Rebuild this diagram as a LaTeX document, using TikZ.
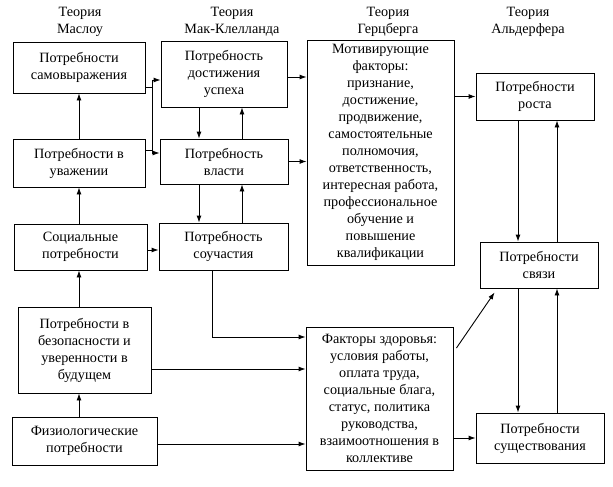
\documentclass[tikz,border=0pt]{standalone}
\usepackage{fontspec}
\setmainfont{Liberation Serif}
\newfontfamily\timesfnt{Liberation Serif}
\usetikzlibrary{arrows.meta}
\tikzset{
  box/.style={rectangle,draw,line width=0.9pt,align=center,inner sep=2pt},
  head/.style={align=center,inner sep=0pt},
  >={Latex[length=7pt,width=5pt]}
}
\begin{document}
\begin{tikzpicture}[x=1pt,y=-1pt,line width=0.9pt,
    font=\timesfnt\fontsize{14.2}{17}\selectfont]
      \useasboundingbox (0,0) rectangle (613,487);
      % headings
      \node[head] (hmaslow) at (80,22) {Теория\\Маслоу};
      \node[head] (hmccl) at (232,22) {Теория\\Мак-Клелланда};
      \node[head] (hherz) at (388,22) {Теория\\Герцберга};
      \node[head] (halder) at (528,22) {Теория\\Альдерфера};
      % Maslow
      \node[box,minimum width=132,minimum height=51] (self) at (79,67.5)
      {Потребности\\самовыражения};
      \node[box,minimum width=132,minimum height=48] (esteem) at (79,163)
      {Потребности в\\уважении};
      \node[box,minimum width=133,minimum height=46] (social) at (80.5,247)
      {Социальные\\потребности};
      \node[box,minimum width=133,minimum height=86] (safety) at (84.5,350)
      {Потребности в\\безопасности и\\уверенности в\\будущем};
      \node[box,minimum width=145,minimum height=48] (physio) at (84.5,441)
      {Физиологические\\потребности};
      % McClelland
      \node[box,minimum width=126,minimum height=66] (achieve) at (224,74)
      {Потребность\\достижения\\успеха};
      \node[box,minimum width=128,minimum height=45] (power) at (224,161.5)
      {Потребность\\власти};
      \node[box,minimum width=129,minimum height=47] (affil) at (223.5,246.5)
      {Потребность\\соучастия};
      % Herzberg
      \node[box,minimum width=147,minimum height=225] (motiv) at (380.5,152.5)
      {Мотивирующие\\факторы:\\признание,\\достижение,\\продвижение,\\самостоятельные\\полномочия,\\ответственность,\\интересная работа,\\профессиональное\\обучение и\\повышение\\квалификации};
      \node[box,minimum width=147,minimum height=143] (hygiene) at (379.5,398.5)
      {Факторы здоровья:\\условия работы,\\оплата труда,\\социальные блага,\\статус, политика\\руководства,\\взаимоотношения в\\коллективе};
      % Alderfer
      \node[box,minimum width=118,minimum height=47] (growth) at (535,96.5)
      {Потребности\\роста};
      \node[box,minimum width=118,minimum height=46] (relate) at (539,265)
      {Потребности\\связи};
      \node[box,minimum width=128,minimum height=50] (exist) at (540,438)
      {Потребности\\существования};
      % helper coordinates
      \coordinate (mx) at (79,0);
      \coordinate (ca) at (199,0);
      \coordinate (cb) at (242,0);
      \coordinate (aa) at (518,0);
      \coordinate (ab) at (557,0);
      \coordinate (s1) at (152,87);
      \coordinate (s2) at (152,150);
      \coordinate (t1) at (0,80);
      \coordinate (t2) at (0,153);
      % Maslow arrows
      \draw[->] (esteem.north -| mx) -- (self.south -| mx);
      \draw[->] (social.north -| mx) -- (esteem.south -| mx);
      \draw[->] (safety.north -| mx) -- (social.south -| mx);
      \draw[->] (physio.north -| mx) -- (safety.south -| mx);
      % Maslow to McClelland
      \draw[->] (self.east |- s1) -- (s1) |- (achieve.west |- t1);
      \draw[->] (esteem.east |- s2) -- (s2) |- (power.west |- t2);
      \draw (s1) -- (s2);
      \draw[->] ([yshift=-3pt]social.east) -- ([yshift=-3pt]social.east -| affil.west);
      % McClelland arrows
      \draw[->] (achieve.south -| ca) -- (power.north -| ca);
      \draw[->] (power.north -| cb) -- (achieve.south -| cb);
      \draw[->] (power.south -| ca) -- (affil.north -| ca);
      \draw[->] (affil.north -| cb) -- (power.south -| cb);
      % to Herzberg
      \draw[->] ([yshift=-3pt]achieve.east) -- ([yshift=-3pt]achieve.east -| motiv.west);
      \draw[->] (power.east) -- (power.east -| motiv.west);
      \draw[->] ([xshift=-11.5pt]affil.south) |- ([yshift=61.5pt]hygiene.west);
      \draw[->] ([yshift=-19pt]safety.east) -- ([yshift=-19pt]safety.east -| hygiene.west);
      \draw[->] ([yshift=-3pt]physio.east) -- ([yshift=-3pt]physio.east -| hygiene.west);
      % to Alderfer
      \draw[->] (motiv.east |- growth.west) -- (growth.west);
      \draw[->] (hygiene.east |- exist.west) -- (exist.west);
      \draw[->] ([shift={(3,-50.5)}]hygiene.east) -- ([shift={(15,4)}]relate.south west);
      % Alderfer arrows
      \draw[->] (growth.south -| aa) -- (relate.north -| aa);
      \draw[->] (relate.north -| ab) -- (growth.south -| ab);
      \draw[->] (relate.south -| aa) -- (exist.north -| aa);
      \draw[->] (exist.north -| ab) -- (relate.south -| ab);
    \end{tikzpicture}
\end{document}
